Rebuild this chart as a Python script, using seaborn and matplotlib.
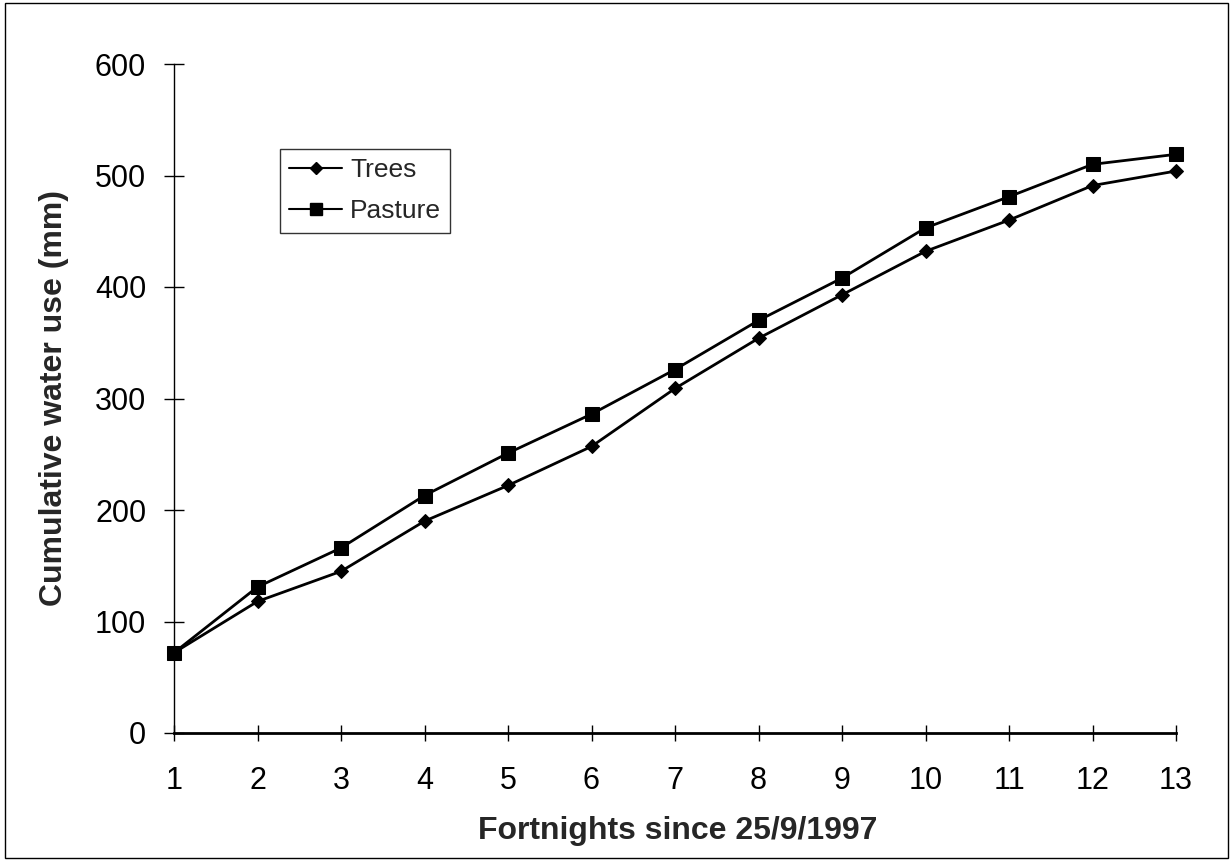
import numpy as np
import pandas as pd
import matplotlib
matplotlib.use("Agg")
import matplotlib.pyplot as plt
import seaborn as sns
from matplotlib.patches import Rectangle
from matplotlib.lines import Line2D

fortnights = list(range(1, 14))
trees = [72, 118, 145, 190, 222, 257, 309, 354, 393, 432, 460, 491, 504]
pasture = [72, 131, 166, 213, 251, 286, 326, 370, 408, 453, 481, 510, 519]
series_names = ["Trees", "Pasture"]
y_ticks = [0, 100, 200, 300, 400, 500, 600]

df = pd.DataFrame({
    "Fortnight": fortnights * 2,
    "Value": trees + pasture,
    "Series": [series_names[0]] * 13 + [series_names[1]] * 13,
})

sns.set_theme(style="white")
plt.rcParams["font.family"] = ["Liberation Sans", "DejaVu Sans"]

fig = plt.figure(figsize=(12.32, 8.68), dpi=100)
ax = fig.add_axes([174 / 1232, 1 - 733 / 868, (1176 - 174) / 1232, (733 - 64) / 868])

sns.lineplot(data=df, x="Fortnight", y="Value", hue="Series", style="Series",
             palette={"Trees": "black", "Pasture": "black"},
             markers={"Trees": "D", "Pasture": "s"}, dashes=False,
             linewidth=2, markeredgecolor="black", ax=ax, legend=False)
for line, ms in zip(ax.get_lines(), [7.5, 10]):
    line.set_markersize(ms)
    line.set_clip_on(False)
    line.set_zorder(5)

ax.set_xlim(1, 13)
ax.set_ylim(0, 600)
ax.set_xticks(fortnights)
ax.set_yticks(y_ticks)
ax.tick_params(axis="both", direction="inout", width=1, colors="black",
               labelsize=22, bottom=True, left=True)
ax.tick_params(axis="x", length=12, pad=18)
ax.tick_params(axis="y", length=14, pad=13)
for s in ["top", "right"]:
    ax.spines[s].set_visible(False)
for s in ["left", "bottom"]:
    ax.spines[s].set_color("black")
ax.spines["left"].set_linewidth(1)
ax.spines["bottom"].set_linewidth(2)

ax.set_xlabel("Fortnights since 25/9/1997", fontsize=23, fontweight="bold")
ax.set_ylabel("Cumulative water use (mm)", fontsize=23, fontweight="bold")
ax.xaxis.set_label_coords(0.503, (733 - 816) / 669)
ax.yaxis.set_label_coords((69 - 174) / 1002, 0.5)

handles = [Line2D([], [], color="black", lw=1.5, marker="D", markersize=6.5),
           Line2D([], [], color="black", lw=1.5, marker="s", markersize=9)]
leg = ax.legend(handles, series_names, loc="upper left",
                bbox_to_anchor=((280 - 174) / (1176 - 174), (733 - 149) / (733 - 64)),
                frameon=True, fancybox=False, edgecolor="black", fontsize=19,
                handlelength=2.0, handletextpad=0.3, borderpad=0.35,
                labelspacing=0.65, borderaxespad=0)
leg.get_frame().set_linewidth(1)

fig.patches.append(Rectangle((5 / 1232, 1 - 858 / 868), 1223 / 1232, 855 / 868,
                             transform=fig.transFigure, fill=False,
                             edgecolor="black", linewidth=1))

fig.savefig("out.png", dpi=100, facecolor="white")
